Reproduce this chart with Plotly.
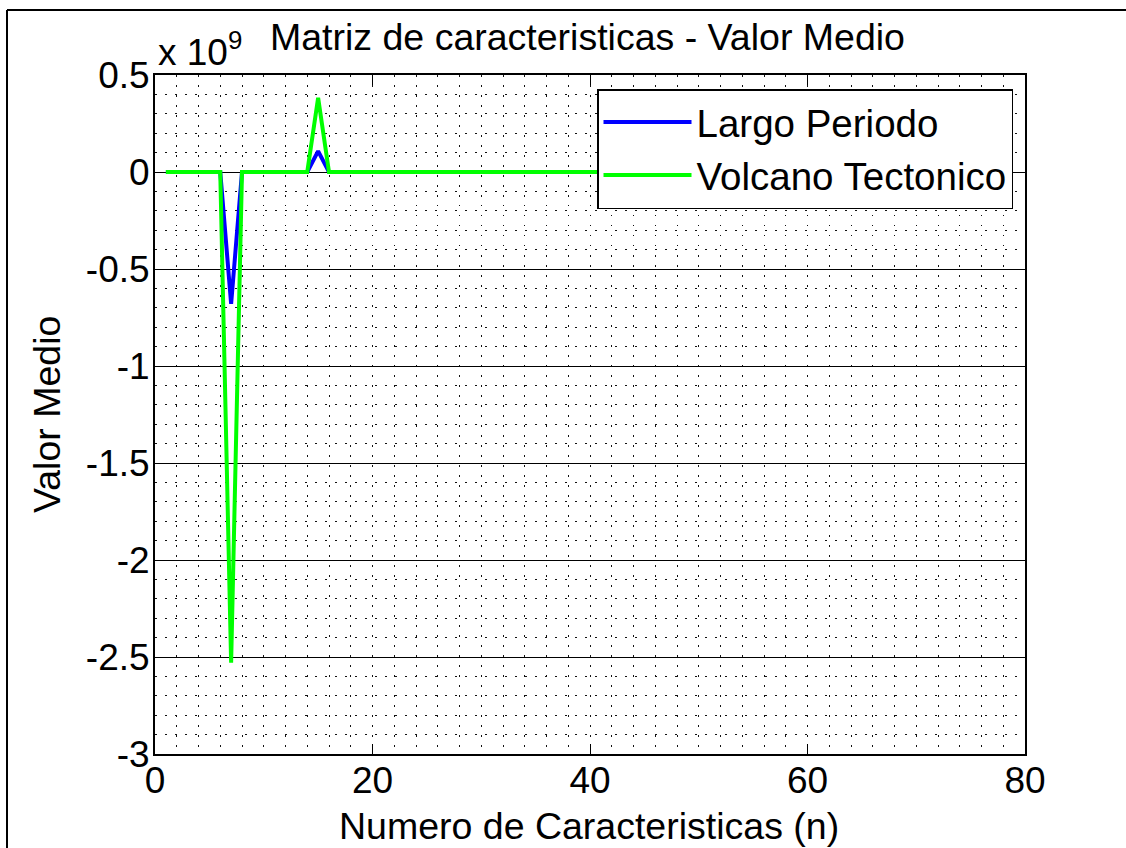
import plotly.graph_objects as go

# ---- data ----
n_features = list(range(1, 61))
largo_periodo = [0.0] * 60
volcano_tectonico = [0.0] * 60
largo_periodo[6] = -0.68e9      # n = 7
largo_periodo[14] = 0.108e9     # n = 15
volcano_tectonico[6] = -2.53e9  # n = 7
volcano_tectonico[14] = 0.383e9 # n = 15

series_names = ["Largo Periodo", "Volcano Tectonico"]
series_colors = ["#0000FF", "#00FF00"]

y_tickvals = [-3e9, -2.5e9, -2e9, -1.5e9, -1e9, -0.5e9, 0, 0.5e9]
y_ticktext = ["-3", "-2.5", "-2", "-1.5", "-1", "-0.5", "0", "0.5"]
x_tickvals = [0, 20, 40, 60, 80]

title_text = "Matriz de caracteristicas - Valor Medio"
x_title = "Numero de Caracteristicas (n)"
y_title = "Valor Medio"
exponent_text = "x 10<sup>9</sup>"

FONT = "Liberation Sans, Arial, Helvetica, sans-serif"
W, H = 1126, 848
L, R, T, B = 155, 101, 75, 94
pw, ph = W - L - R, H - T - B

def px(xp):
    return (xp - L) / pw

def py(yp):
    return (H - B - yp) / ph

fig = go.Figure()
for name, vals, col in zip(series_names, [largo_periodo, volcano_tectonico], series_colors):
    fig.add_trace(go.Scatter(x=n_features, y=vals, mode="lines", name=name,
                             line=dict(color=col, width=4)))

dot = "1.5px,8.5px"
gc = "#111"
fig.update_layout(
    width=W, height=H,
    margin=dict(l=L, r=R, t=T, b=B),
    paper_bgcolor="white", plot_bgcolor="white",
    font=dict(family=FONT, size=37, color="black"),
    showlegend=True,
    legend=dict(x=px(1013), y=py(89), xanchor="right", yanchor="top",
                bgcolor="white", bordercolor="black", borderwidth=1.5,
                font=dict(family=FONT, size=38.5, color="black"),
                itemwidth=88, tracegroupgap=0),
    xaxis=dict(range=[0, 80], tickvals=x_tickvals, ticks="inside", ticklen=10,
               tickwidth=1, tickcolor="black", showline=True, linecolor="black",
               linewidth=2, mirror="ticks", zeroline=False,
               showgrid=True, gridcolor=gc, gridwidth=1, griddash=dot,
               minor=dict(dtick=2, showgrid=True, gridcolor=gc, gridwidth=1,
                          griddash=dot),
               tickfont=dict(size=37), ticklabelstandoff=-7),
    yaxis=dict(range=[-3e9, 0.5e9], tickvals=y_tickvals, ticktext=y_ticktext,
               ticks="inside", ticklen=10, tickwidth=1, tickcolor="black",
               showline=True, linecolor="black", linewidth=2, mirror="ticks",
               zeroline=False, showgrid=True, gridcolor="black", gridwidth=1,
               minor=dict(dtick=0.1e9, showgrid=True, gridcolor=gc, gridwidth=1,
                          griddash=dot),
               tickfont=dict(size=37), ticklabelstandoff=-4),
    annotations=[
        dict(text=title_text, x=px(587), y=py(37), xref="paper", yref="paper",
             xanchor="center", yanchor="middle", showarrow=False,
             font=dict(size=37.5)),
        dict(text=exponent_text, x=px(156), y=py(50), xref="paper", yref="paper",
             xanchor="left", yanchor="middle", showarrow=False,
             font=dict(size=37)),
        dict(text=x_title, x=px(589), y=py(826), xref="paper", yref="paper",
             xanchor="center", yanchor="middle", showarrow=False,
             font=dict(size=37.5)),
        dict(text=y_title, x=px(47), y=py(415), xref="paper", yref="paper",
             xanchor="center", yanchor="middle", showarrow=False, textangle=-90,
             font=dict(size=37.5)),
    ],
    shapes=[
        dict(type="line", xref="paper", yref="paper", x0=px(7), x1=px(1126),
             y0=py(10), y1=py(10), line=dict(color="black", width=2)),
        dict(type="line", xref="paper", yref="paper", x0=px(7), x1=px(7),
             y0=py(10), y1=py(848), line=dict(color="black", width=2)),
    ],
)

fig.write_html("out.html", config={"displayModeBar": False},
               post_script="document.body.style.margin='0px';document.body.style.overflow='hidden';")
